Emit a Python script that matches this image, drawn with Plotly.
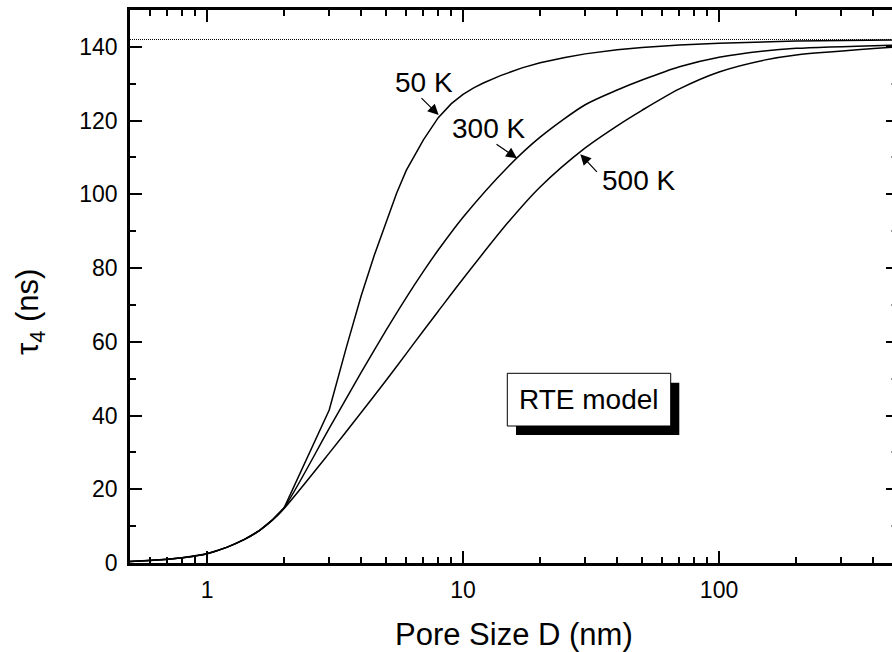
import numpy as np
import plotly.graph_objects as go

# ---------------- data ----------------
D_50K = [0.5, 0.6, 0.7, 0.8, 0.9, 1.0, 1.2, 1.4, 1.6, 1.8, 2, 3, 3.5, 4, 4.5, 5, 5.5, 6, 7, 8,
         9, 10, 11, 12, 14, 17, 20, 25, 30, 40, 50, 70, 100, 200, 500]
tau_50K = [0.4, 0.7, 1.0, 1.4, 1.9, 2.5, 4.3, 6.4, 8.8, 11.7, 15.0, 41.5, 58.5, 72.5, 83.5,
           92.5, 100.3, 106.5, 114.8, 120.8, 124.6, 127.1, 128.9, 130.2, 132.2, 134.3, 135.7,
           137.1, 138.1, 139.2, 139.8, 140.5, 141.0, 141.6, 141.9]

D_300K = [0.5, 0.6, 0.7, 0.8, 0.9, 1.0, 1.2, 1.4, 1.6, 1.8, 2, 3, 4, 5, 6, 7, 8, 10,
          15, 20, 30, 40, 50, 70, 100, 150, 200, 500]
tau_300K = [0.4, 0.7, 1.0, 1.4, 1.9, 2.5, 4.3, 6.4, 8.8, 11.7, 15.0, 36.5, 51.7, 63.1, 72.0,
            79.1, 84.9, 93.8, 107.5, 115.5, 124.3, 128.3, 131.0, 134.6, 137.2, 138.9, 139.6, 140.5]

D_500K = [0.5, 0.6, 0.7, 0.8, 0.9, 1.0, 1.2, 1.4, 1.6, 1.8, 2, 3, 4, 5, 6, 7, 8, 10,
          15, 20, 30, 40, 50, 70, 100, 150, 200, 500]
tau_500K = [0.4, 0.7, 1.0, 1.4, 1.9, 2.5, 4.3, 6.4, 8.8, 11.6, 14.8, 29.8, 40.8, 49.5, 56.8,
            63.0, 68.3, 77.1, 92.4, 102.0, 112.6, 118.6, 122.8, 128.6, 133.2, 136.4, 137.8, 140.0]

tau_limit = 142.0
D_limit = [0.5, 500]

curve_labels = ["50 K", "300 K", "500 K"]
# where each label's arrow touches its curve (D, tau)
label_tips_D = [8.03, 16.25, 28.7]
label_tips_tau = [121.5, 109.8, 110.9]

x_tickvals = [1, 10, 100]
x_ticktext = ["1", "10", "100"]
y_tickvals = [0, 20, 40, 60, 80, 100, 120, 140]

box_text = "RTE model"
x_title = "Pore Size D (nm)"
y_title = "τ<sub>4</sub> (ns)"

# ---------------- figure ----------------
FONT = "Liberation Sans, Arial, sans-serif"
W, H = 892, 652
ML, MR, MT, MB = 130, 0, 10, 89
PW, PH = W - ML - MR, H - MT - MB
PX_PER_DEC = 256.0
x0_log = np.log10(0.5)
x1_log = x0_log + PW / PX_PER_DEC

fig = go.Figure()
fig.add_trace(go.Scatter(x=D_50K, y=tau_50K, mode="lines",
                         line=dict(color="black", width=1.5),
                         showlegend=False, hoverinfo="skip"))
for D, tau in [(D_300K, tau_300K), (D_500K, tau_500K)]:
    fig.add_trace(go.Scatter(x=D, y=tau, mode="lines",
                             line=dict(color="black", width=1.5, shape="spline", smoothing=0.8),
                             showlegend=False, hoverinfo="skip"))

fig.add_trace(go.Scatter(x=D_limit, y=[tau_limit, tau_limit], mode="lines",
                         line=dict(color="black", width=1, dash="1px,1px"),
                         showlegend=False, hoverinfo="skip", yaxis="y2"))

minor_x = [d * 10.0 ** k for k in (-1, 0, 1, 2) for d in range(2, 10)]

fig.update_layout(
    width=W, height=H,
    margin=dict(l=ML, r=MR, t=MT, b=MB),
    paper_bgcolor="white", plot_bgcolor="white",
    font=dict(family=FONT, color="black"),
    xaxis=dict(type="log", range=[x0_log, x1_log],
               tickvals=x_tickvals, ticktext=x_ticktext,
               ticks="inside", ticklen=12, tickwidth=2.2, tickcolor="black",
               minor=dict(tickvals=minor_x, ticks="inside", ticklen=6, tickwidth=2.2,
                          tickcolor="black", showgrid=False),
               showline=True, linewidth=2.5, linecolor="black", mirror="ticks",
               showgrid=False, zeroline=False,
               tickfont=dict(size=23, family=FONT, color="black"),
               ticklabelstandoff=5),
    yaxis=dict(range=[0, 150], tickvals=y_tickvals,
               ticks="inside", ticklen=12, tickwidth=2.2, tickcolor="black",
               minor=dict(dtick=10, tick0=0, ticks="inside", ticklen=6, tickwidth=2.2,
                          tickcolor="black", showgrid=False),
               showline=True, linewidth=2.5, linecolor="black", mirror=False,
               showgrid=False, zeroline=False,
               tickfont=dict(size=23, family=FONT, color="black"),
               ticklabelstandoff=5),
    yaxis2=dict(range=[0, 150], overlaying="y", side="right", anchor="free", position=1,
                tickvals=y_tickvals, showticklabels=False,
                ticks="inside", ticklen=6, tickwidth=2.2, tickcolor="black",
                minor=dict(dtick=10, tick0=0, ticks="inside", ticklen=1, tickwidth=2,
                           tickcolor="#999999", showgrid=False),
                showline=False, showgrid=False, zeroline=False),
)

def px_to_paper(px, py):
    return (px - ML) / PW, (H - MB - py) / PH

annotations = []
# curve labels with arrows (text center and arrow tail positions in pixels)
text_centers = [(423.7, 82.5), (488.3, 128.3), (638.3, 180.0)]
arrow_tails = [(420.0, 96.7), (495.0, 143.3), (598.3, 173.3)]
for lab, dv, tv, (tcx, tcy), (atx, aty) in zip(curve_labels, label_tips_D, label_tips_tau,
                                             text_centers, arrow_tails):
    tip_px = ML + (np.log10(dv) - x0_log) * PX_PER_DEC
    tip_py = (H - MB) - tv / 150.0 * PH
    annotations.append(dict(x=np.log10(dv), y=tv, xref="x", yref="y", text="",
                            showarrow=True, ax=atx - tip_px, ay=aty - tip_py,
                            arrowhead=2, arrowsize=1.8, arrowwidth=1.2,
                            arrowcolor="black", standoff=0, startstandoff=0))
    annotations.append(dict(x=np.log10(dv), y=tv, xref="x", yref="y", text=lab,
                            showarrow=False, xanchor="center", yanchor="middle",
                            xshift=tcx - tip_px, yshift=-(tcy - tip_py),
                            font=dict(size=28, family=FONT, color="black")))

# box text
bx, by = px_to_paper(589.0, 399.7)
annotations.append(dict(x=bx, y=by, xref="paper", yref="paper", text=box_text,
                        showarrow=False, xanchor="center", yanchor="middle",
                        font=dict(size=28, family=FONT, color="black")))

# axis titles
tx, ty = px_to_paper(514.0, 634.0)
annotations.append(dict(x=tx, y=ty, xref="paper", yref="paper", text=x_title,
                        showarrow=False, xanchor="center", yanchor="middle",
                        font=dict(size=31, family=FONT, color="black")))
yx, yy = px_to_paper(30.0, 312.0)
annotations.append(dict(x=yx, y=yy, xref="paper", yref="paper", text=y_title,
                        showarrow=False, textangle=-90, xanchor="center", yanchor="middle",
                        font=dict(size=31, family=FONT, color="black")))
fig.update_layout(annotations=annotations)

# shadowed frame around "RTE model"
sx0, sy1 = px_to_paper(516.0, 382.7)
sx1, sy0 = px_to_paper(679.3, 435.0)
mx0, my1 = px_to_paper(507.3, 373.3)
mx1, my0 = px_to_paper(670.7, 426.0)
fig.add_shape(type="rect", xref="paper", yref="paper", x0=sx0, x1=sx1, y0=sy0, y1=sy1,
              fillcolor="black", line=dict(color="black", width=0), layer="above")
fig.add_shape(type="rect", xref="paper", yref="paper", x0=mx0, x1=mx1, y0=my0, y1=my1,
              fillcolor="white", line=dict(color="black", width=1), layer="above")

fig.write_html("out.html")
